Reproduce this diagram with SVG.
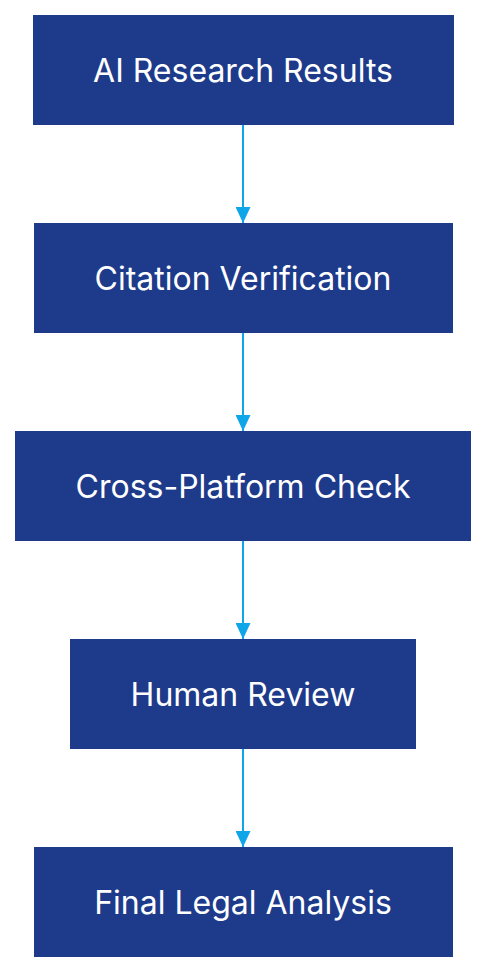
<svg xmlns="http://www.w3.org/2000/svg" width="486" height="972" viewBox="0 0 486 972">
<defs>
<style>
.node rect{fill:#1e3a8a;}
.node text{fill:#ffffff;font-family:Inter,"Liberation Sans",sans-serif;font-size:32px;text-anchor:middle;dominant-baseline:central;}
.edge{stroke:#0ea5e9;stroke-width:2;fill:none;marker-end:url(#arrow);}
</style>
<marker id="arrow" markerWidth="16" markerHeight="15" refX="16" refY="7.5" orient="auto" markerUnits="userSpaceOnUse" viewBox="0 0 16 15">
<path d="M0,0 L16,7.5 L0,15 Z" fill="#0ea5e9"/>
</marker>
</defs>
<rect width="486" height="972" fill="#ffffff"/>
<g id="edges">
<line class="edge" x1="243" y1="125" x2="243" y2="223"/>
<line class="edge" x1="243" y1="333" x2="243" y2="431"/>
<line class="edge" x1="243" y1="541" x2="243" y2="639"/>
<line class="edge" x1="243" y1="749" x2="243" y2="847"/>
</g>
<g id="n1" class="node"><rect x="33" y="15" width="421" height="110"/><text x="243" y="70">AI Research Results</text></g>
<g id="n2" class="node"><rect x="34" y="223" width="419" height="110"/><text x="243" y="278">Citation Verification</text></g>
<g id="n3" class="node"><rect x="15" y="431" width="456" height="110"/><text x="243" y="486">Cross-Platform Check</text></g>
<g id="n4" class="node"><rect x="70" y="639" width="346" height="110"/><text x="243" y="694">Human Review</text></g>
<g id="n5" class="node"><rect x="34" y="847" width="419" height="110"/><text x="243" y="902">Final Legal Analysis</text></g>
</svg>
